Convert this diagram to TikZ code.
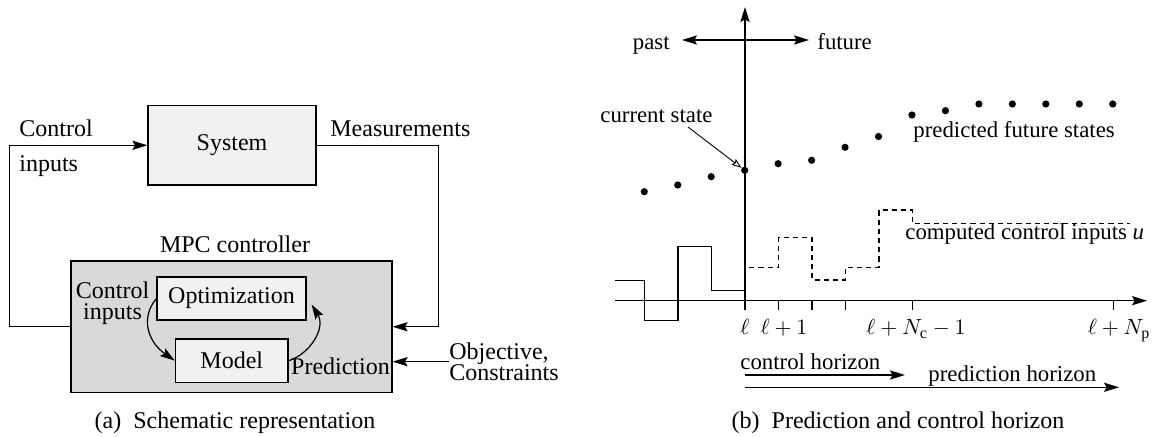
\documentclass[tikz,border=0pt]{standalone}
\usepackage{fontspec}
\setmainfont{Liberation Serif}
\usetikzlibrary{arrows.meta}
\definecolor{boxlight}{HTML}{F1F1F1}
\definecolor{boxdark}{HTML}{D9D9D9}
\tikzset{
  ln/.style={line width=0.6pt},
  tip/.style={-{Stealth[length=7.5pt,width=4.6pt,inset=1.3pt]}},
  dtip/.style={{Stealth[length=7.5pt,width=4.6pt,inset=1.3pt]}-{Stealth[length=7.5pt,width=4.6pt,inset=1.3pt]}},
  otip/.style={-{Stealth[open,length=5pt,width=3.6pt,inset=0.8pt]}},
  lightbox/.style={draw, fill=boxlight, inner sep=0pt, line width=0.6pt},
  darkbox/.style={draw, fill=boxdark, inner sep=0pt, line width=0.6pt},
  lbl/.style={inner sep=0pt, font=\fontsize{12}{14}\selectfont},
  rlbl/.style={inner sep=0pt, font=\fontsize{11.4}{13.5}\selectfont},
  dot/.style={fill, circle, inner sep=0pt, minimum size=3.6pt},
  dashline/.style={line width=0.6pt, dash pattern=on 2.6pt off 2pt},
}
\begin{document}
\begin{tikzpicture}[x=0.5pt,y=-0.5pt]
\useasboundingbox (0,0) rectangle (1157,437);
% ---------------- left panel ----------------
\node[darkbox, minimum width=160.5pt, minimum height=65.75pt] (mpc) at (231.5,326.75) {};
\node[lightbox, minimum width=84pt, minimum height=39.75pt, lbl] (sys) at (232,145.3) {System};
\node[lightbox, minimum width=74.5pt, minimum height=21.5pt, lbl] (opt) at (231.5,298.5) {Optimization};
\node[lightbox, minimum width=56.25pt, minimum height=21.75pt, lbl] (model) at (231.75,360.75) {Model};
\node[lbl, anchor=base] (mpct) at (235,253) {MPC controller};
\node[lbl, anchor=base west] (ci1) at (19,137) {Control};
\node[lbl, anchor=base west] (ci2) at (19,172) {inputs};
\node[lbl, anchor=base west] (meas) at (330,137) {Measurements};
\node[lbl, align=center, font=\fontsize{12}{10.3}\selectfont] (ici) at (112.5,303) {Control\\inputs};
\node[lbl, anchor=base] (pred) at (340.5,375) {Prediction};
\node[lbl, anchor=west, align=left, font=\fontsize{12}{10.7}\selectfont] (obj) at (449,361.7) {Objective,\\Constraints};
\draw[ln, tip] (mpc.west) -- ++(-61,0) |- (sys.west);
\draw[ln, tip] (sys.east) -- ++(122,0) |- (mpc.east);
\draw[ln, tip] (obj.west) -- (obj.west -| mpc.east);
\draw[ln, tip] (opt.west) .. controls (140,318) and (148,342) .. (model.west);
\draw[ln, tip] (model.east) .. controls (310,354) and (326,328) .. ([shift={(5,6)}]opt.east);
\node[lbl, anchor=base] (capa) at (235,429) {(a)\hskip0.5em Schematic representation};
% ---------------- right panel ----------------
\coordinate (vb) at (745,310);
\coordinate (vt) at (745,7);
\coordinate (hl) at (615,300.7);
\coordinate (hr) at (1147,300.7);
\draw[ln, tip] (vb) -- (vt);
\draw[ln, tip] (hl) -- (hr);
\coordinate (pl) at (682,40);
\coordinate (pr) at (809,40);
\draw[ln, dtip] (pl) -- (pr);
\node[rlbl, anchor=base east] (past) at (670,50) {past};
\node[rlbl, anchor=base west] (fut) at (817,50) {future};
% dots
\foreach \yy [count=\k from 0] in {191.7,185,176.7,170.3,163.7,160.3,147.3,136.5,115,110.7,104,104,104,104,104}
  \node[dot] (d\k) at ({644.3+33.46*\k},\yy) {};
\node[rlbl, anchor=base west] (cs) at (600,123) {current state};
\coordinate (csa) at (688,127);
\draw[line width=0.45pt, otip] (csa) -- (d3);
\node[rlbl, anchor=base west] (pfs) at (913,137.5) {predicted future states};
% past inputs (solid)
\draw[ln] (615,280.7) -- (644.3,280.7) -- (644.3,320.7) -- (678,320.7) -- (678,246.7)
  -- (711.7,246.7) -- (711.7,290.7) -- (745,290.7);
% computed inputs (dashed)
\draw[dashline] (745,290.7) -- (745,267.3) -- (778.7,267.3) -- (778.7,237.3) -- (812,237.3)
  -- (812,280) -- (845.3,280) -- (845.3,267.3) -- (879,267.3) -- (879,210) -- (912.3,210)
  -- (912.3,223.3) -- (1130,223.3);
\node[rlbl, anchor=base west] (cci) at (905,240) {computed control inputs \textit{u}};
% ticks
\foreach \tx/\nm in {745/t0,778.7/t1,812/t2,845.3/t3,912.3/t4,1113.3/t5}
  \draw[ln] (\tx,300.7) -- (\tx,310) coordinate (\nm);
\node[rlbl, anchor=base] (l0) at (745,335) {$\ell$};
\node[rlbl, anchor=base] (l1) at (784,335) {$\ell+1$};
\node[rlbl, anchor=base] (l2) at (916,335) {$\ell+N_{\mathrm{c}}-1$};
\node[rlbl, anchor=base] (l3) at (1119,335) {$\ell+N_{\mathrm{p}}$};
% horizons
\coordinate (ch0) at (745,375);
\coordinate (ch1) at (905,375);
\coordinate (ph0) at (745,387.3);
\coordinate (ph1) at (1119,387.3);
\draw[ln, tip] (ch0) -- (ch1);
\draw[ln, tip] (ph0) -- (ph1);
\node[rlbl, anchor=base west] (cht) at (740,370) {control horizon};
\node[rlbl, anchor=base west] (pht) at (928,381.7) {prediction horizon};
\node[lbl, anchor=base] (capb) at (898,429) {(b)\hskip0.5em Prediction and control horizon};
\end{tikzpicture}
\end{document}
